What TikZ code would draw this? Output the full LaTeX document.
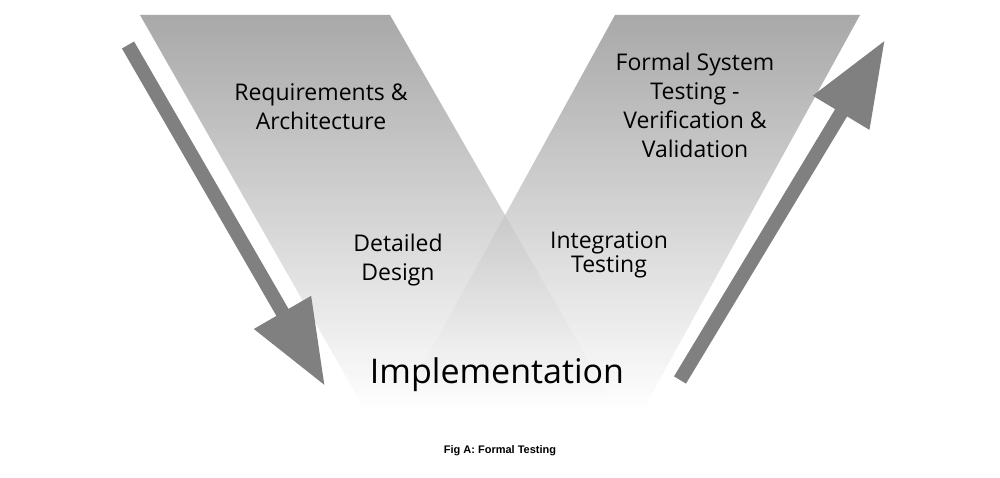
\documentclass[tikz,border=0pt]{standalone}
\usepackage{fontspec}
\setmainfont{Open Sans}
\newfontfamily\capfont{Liberation Sans}
\usetikzlibrary{arrows.meta}
\begin{document}
\begin{tikzpicture}[x=1pt,y=-1pt,
  band/.style={top color=black!45,bottom color=white,fill opacity=0.75,draw=none},
  lbl/.style={align=center,font=\fontsize{23}{29}\selectfont,text=black},
  bigarrow/.style={draw=black!50,line width=14pt,-{Triangle[length=85pt,width=62pt]}}]
\useasboundingbox (0,0) rectangle (1000,478);
\fill[white] (0,0) rectangle (1000,478);
\shade[band] (140,15) -- (390,15) -- (617,410) -- (365,410) -- cycle;
\shade[band] (615,15) -- (860,15) -- (643,410) -- (398,410) -- cycle;
\coordinate (l1) at (128,45); \coordinate (l2) at (325,386);
\coordinate (r1) at (680,380); \coordinate (r2) at (885,40);
\draw[bigarrow] (l1) -- (l2);
\draw[bigarrow] (r1) -- (r2);
\node[lbl] (req) at (321,107) {Requirements \&\\Architecture};
\node[lbl] (fst) at (695,105) {Formal System\\Testing -\\Verification \&\\Validation};
\node[lbl] (dd) at (398,260) {Detailed\\Design};
\node[lbl,font=\fontsize{23}{22}\selectfont] (it) at (609,255) {Integration\\Testing};
\node[lbl,font=\fontsize{34}{40}\selectfont] (imp) at (497,375) {Implementation};
\node[font=\capfont\bfseries\fontsize{11}{13}\selectfont] (cap) at (500,451) {Fig A: Formal Testing};
\end{tikzpicture}
\end{document}
